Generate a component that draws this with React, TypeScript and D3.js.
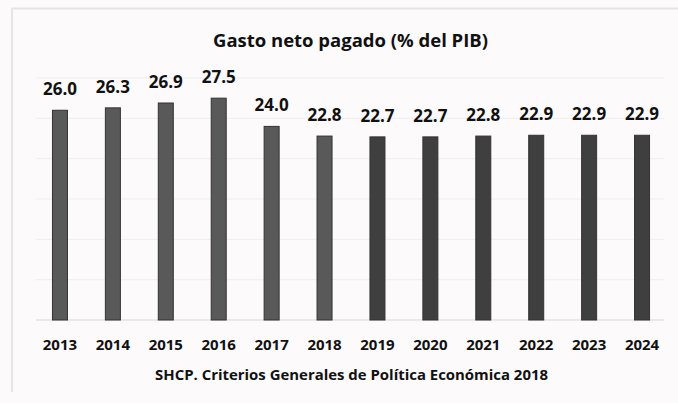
import React from "react";
import * as d3 from "d3";

const years = ["2013","2014","2015","2016","2017","2018","2019","2020","2021","2022","2023","2024"];
const values = [26.0, 26.3, 26.9, 27.5, 24.0, 22.8, 22.7, 22.7, 22.8, 22.9, 22.9, 22.9];
const gridTicks = [0, 5, 10, 15, 20, 25, 30];
const title = "Gasto neto pagado (% del PIB)";
const source = "SHCP. Criterios Generales de Política Económica 2018";

const W = 678, H = 403;
const FONT = "'Open Sans', 'DejaVu Sans', sans-serif";

export default function App() {
  const x = d3.scaleBand<string>().domain(years).range([33.5, 668.5]).padding(0);
  const y = d3.scaleLinear().domain([0, 30]).range([320, 78]);
  const bw = 15;
  return (
    <svg width={W} height={H} style={{ position: "absolute", left: 0, top: 0, display: "block" }}>
      <rect x={0} y={0} width={W} height={H} fill="#fcfafb" />
      <line x1={12} y1={8.5} x2={678} y2={8.5} stroke="#e6e4e6" strokeWidth={2} />
      <line x1={12} y1={8} x2={12} y2={392} stroke="#e6e4e6" strokeWidth={2} />
      {gridTicks.map((t) => (
        <line key={t} x1={36} x2={664} y1={y(t)} y2={y(t)} stroke={t === 0 ? "#d8d6d8" : "#efedef"} strokeWidth={1} />
      ))}
      <text x={350.5} y={47} textAnchor="middle" fontFamily={FONT} fontWeight={700} fontSize={18} fill="#111"
        textLength={275} lengthAdjust="spacingAndGlyphs">{title}</text>
      {years.map((yr, i) => {
        const cx = (x(yr) as number) + x.bandwidth() / 2;
        return (
          <g key={yr}>
            <rect x={cx - bw / 2} y={y(values[i])} width={bw} height={y(0) - y(values[i])}
              fill={i < 6 ? "#595959" : "#3f3f3f"} stroke="#333" strokeWidth={1} />
            <text x={cx} y={y(values[i]) - 15} textAnchor="middle" fontFamily={FONT} fontWeight={700} fontSize={17} fill="#111">
              {values[i].toFixed(1)}
            </text>
            <text x={cx} y={350} textAnchor="middle" fontFamily={FONT} fontWeight={700} fontSize={15} fill="#111">{yr}</text>
          </g>
        );
      })}
      <text x={351.5} y={380} textAnchor="middle" fontFamily={FONT} fontWeight={700} fontSize={14.5} fill="#111"
        textLength={393} lengthAdjust="spacingAndGlyphs">{source}</text>
    </svg>
  );
}
